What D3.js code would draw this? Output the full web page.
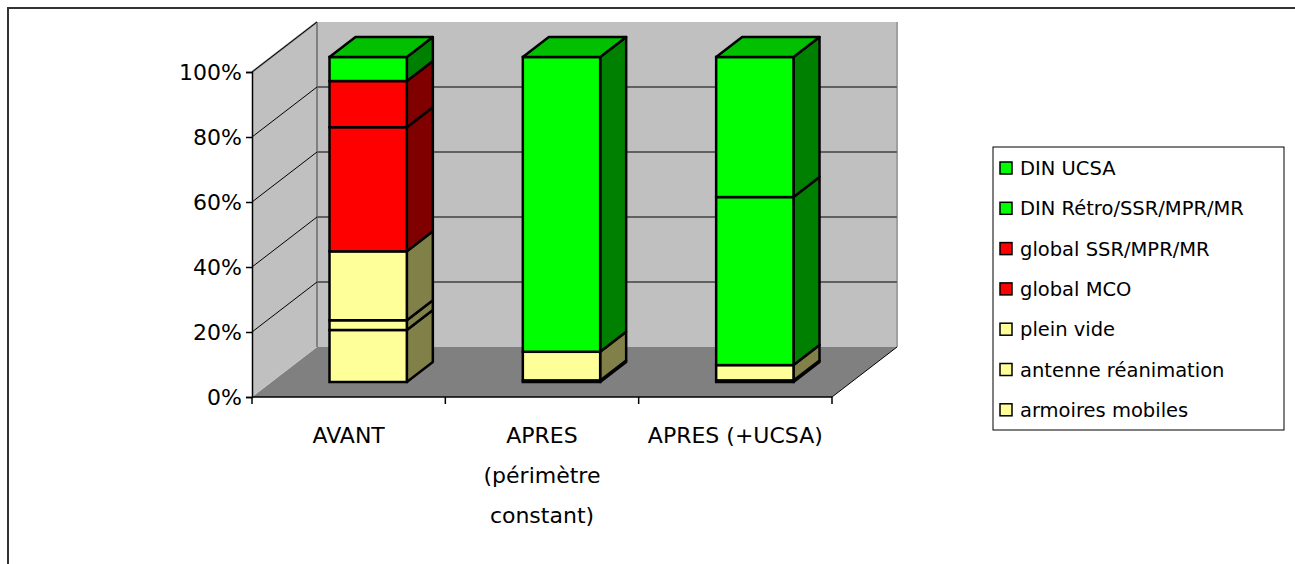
<!DOCTYPE html>
<html>
<head>
<meta charset="utf-8">
<script src="https://cdn.jsdelivr.net/npm/d3@7"></script>
<style>
  body { margin: 0; background: #fff; }
  svg text { font-family: "Comic Sans MS", "DejaVu Sans", sans-serif; fill: #000; }
</style>
</head>
<body>
<div id="chart"></div>
<script>
// categories and stacked series (share of total, %)
var categories = ["AVANT", "APRES (périmètre constant)", "APRES (+UCSA)"];
var categoryLines = [["AVANT"], ["APRES", "(périmètre", "constant)"], ["APRES (+UCSA)"]];

var armoiresMobiles = [16.0, 0.5, 0.5];
var antenneReanimation = [3.0, 0, 0];
var pleinVide = [21.2, 8.8, 4.7];
var globalMCO = [38.2, 0, 0];
var globalSSR = [14.2, 0, 0];
var dinRetro = [7.4, 90.7, 51.7];
var dinUCSA = [0, 0, 43.1];

// bottom to top
var seriesNames = ["armoires mobiles", "antenne réanimation", "plein vide", "global MCO",
                   "global SSR/MPR/MR", "DIN Rétro/SSR/MPR/MR", "DIN UCSA"];
var seriesValues = [armoiresMobiles, antenneReanimation, pleinVide, globalMCO,
                    globalSSR, dinRetro, dinUCSA];
var seriesGroup = ["yellow", "yellow", "yellow", "red", "red", "green", "green"];

var yTicks = [0, 20, 40, 60, 80, 100];

var palette = {
  yellow: {front: "#FFFF99", side: "#808048", top: "#CCCC7A"},
  red:    {front: "#FF0000", side: "#800000", top: "#C00000"},
  green:  {front: "#00FF00", side: "#008000", top: "#00C000"}
};

var W = 1295, H = 564;
var svg = d3.select("#chart").append("svg")
  .attr("width", W).attr("height", H);

// outer frame (runs off right/bottom edges)
svg.append("rect")
  .attr("x", 8).attr("y", 8).attr("width", 1400).attr("height", 700)
  .attr("fill", "#fff").attr("stroke", "#333").attr("stroke-width", 2);

// 3D plot geometry
var x0 = 252, x1 = 832;
var depthX = 65, depthY = -50;

var x = d3.scaleBand().domain(categories).range([x0, x1])
  .paddingInner(0.6).paddingOuter(0.3);
var y = d3.scaleLinear().domain([0, 100]).range([397, 72]);

function pt(px, py, d) { return [px + d * depthX, py + d * depthY]; }
function poly(points) { return points.map(function(p) { return p.join(","); }).join(" "); }

var g = svg.append("g");

// floor
g.append("polygon")
  .attr("points", poly([pt(x0, y(0), 0), pt(x1, y(0), 0), pt(x1, y(0), 1), pt(x0, y(0), 1)]))
  .attr("fill", "#808080");

// left wall
g.append("polygon")
  .attr("points", poly([pt(x0, y(0), 0), pt(x0, y(100), 0), pt(x0, y(100), 1), pt(x0, y(0), 1)]))
  .attr("fill", "#C0C0C0");

// back wall
g.append("polygon")
  .attr("points", poly([pt(x0, y(100), 1), pt(x1, y(100), 1), pt(x1, y(0), 1), pt(x0, y(0), 1)]))
  .attr("fill", "#C0C0C0");

// wall edges
g.append("line")
  .attr("x1", pt(x0, y(100), 0)[0]).attr("y1", pt(x0, y(100), 0)[1])
  .attr("x2", pt(x0, y(100), 1)[0]).attr("y2", pt(x0, y(100), 1)[1])
  .attr("stroke", "#808080").attr("stroke-width", 2);
g.append("line")
  .attr("x1", pt(x0, y(0), 1)[0]).attr("y1", pt(x0, y(0), 1)[1])
  .attr("x2", pt(x0, y(100), 1)[0]).attr("y2", pt(x0, y(100), 1)[1])
  .attr("stroke", "#808080").attr("stroke-width", 2);
g.append("line")
  .attr("x1", pt(x1, y(0), 1)[0]).attr("y1", pt(x1, y(0), 1)[1])
  .attr("x2", pt(x1, y(100), 1)[0]).attr("y2", pt(x1, y(100), 1)[1])
  .attr("stroke", "#A0A0A0").attr("stroke-width", 2);

// gridlines
yTicks.filter(function(t) { return t > 0; }).forEach(function(t) {
  g.append("line")
    .attr("x1", pt(x0, y(t), 0)[0]).attr("y1", pt(x0, y(t), 0)[1])
    .attr("x2", pt(x0, y(t), 1)[0]).attr("y2", pt(x0, y(t), 1)[1])
    .attr("stroke", "#000").attr("stroke-width", 1);
  g.append("line")
    .attr("x1", pt(x0, y(t), 1)[0]).attr("y1", pt(x0, y(t), 1)[1])
    .attr("x2", pt(x1, y(t), 1)[0]).attr("y2", pt(x1, y(t), 1)[1])
    .attr("stroke", "#606060").attr("stroke-width", t === 100 ? 0 : 2);
});

// floor right edge
g.append("line")
  .attr("x1", pt(x1, y(0), 0)[0]).attr("y1", pt(x1, y(0), 0)[1])
  .attr("x2", pt(x1, y(0), 1)[0]).attr("y2", pt(x1, y(0), 1)[1])
  .attr("stroke", "#000").attr("stroke-width", 1);

// axes
var yAxis = d3.axisLeft(y).tickValues(yTicks).tickSize(6).tickFormat(function(d) { return d + "%"; });
var ya = svg.append("g").attr("transform", "translate(" + x0 + ",0)").call(yAxis);
ya.attr("font-family", null);
ya.select(".domain").attr("stroke", "#000").attr("stroke-width", 1.5);
ya.selectAll(".tick line").attr("stroke", "#000").attr("stroke-width", 1.5);
ya.selectAll(".tick text").attr("x", -10).attr("font-size", 22).attr("dy", "0.36em");

var xEdges = d3.scaleLinear().domain([0, categories.length]).range([x0, x1]);
var xa = svg.append("g").attr("transform", "translate(0," + y(0) + ")");
xa.append("line").attr("x1", x0).attr("x2", x1).attr("stroke", "#000").attr("stroke-width", 1.5);
d3.range(categories.length + 1).forEach(function(i) {
  xa.append("line").attr("x1", xEdges(i)).attr("x2", xEdges(i)).attr("y1", 0).attr("y2", 7)
    .attr("stroke", "#000").attr("stroke-width", 1.5);
});
categories.forEach(function(c, i) {
  var t = xa.append("text").attr("text-anchor", "middle").attr("font-size", 22)
    .attr("x", xEdges(i + 0.5)).attr("y", 46);
  categoryLines[i].forEach(function(line, j) {
    t.append("tspan").attr("x", xEdges(i + 0.5)).attr("dy", j === 0 ? 0 : 40).text(line);
  });
});

// bars
var d0 = 0.3, d1 = 0.7;
categories.forEach(function(c, ci) {
  var bx0 = x(c) + d0 * depthX, bx1 = bx0 + x.bandwidth();
  var cum = 0;
  var segs = [];
  seriesValues.forEach(function(vals, si) {
    var v = vals[ci];
    if (v > 0) { segs.push({lo: cum, hi: cum + v, color: palette[seriesGroup[si]]}); cum += v; }
  });
  var bar = g.append("g");
  segs.forEach(function(s, k) {
    var yl = y(s.lo) + d0 * depthY, yh = y(s.hi) + d0 * depthY;
    var dxs = (d1 - d0) * depthX, dys = (d1 - d0) * depthY;
    bar.append("polygon")
      .attr("points", poly([[bx1, yl], [bx1 + dxs, yl + dys], [bx1 + dxs, yh + dys], [bx1, yh]]))
      .attr("fill", s.color.side).attr("stroke", "#000").attr("stroke-width", 2.5)
      .attr("stroke-linejoin", "round");
    bar.append("rect")
      .attr("x", bx0).attr("y", yh).attr("width", bx1 - bx0).attr("height", yl - yh)
      .attr("fill", s.color.front).attr("stroke", "#000").attr("stroke-width", 2.5);
    if (k === segs.length - 1) {
      bar.append("polygon")
        .attr("points", poly([[bx0, yh], [bx1, yh], [bx1 + dxs, yh + dys], [bx0 + dxs, yh + dys]]))
        .attr("fill", s.color.top).attr("stroke", "#000").attr("stroke-width", 2.5)
        .attr("stroke-linejoin", "round");
    }
  });
});

// legend (top to bottom = reverse stack order)
var legend = svg.append("g").attr("transform", "translate(993,147)");
legend.append("rect").attr("width", 291).attr("height", 283)
  .attr("fill", "#fff").attr("stroke", "#000").attr("stroke-width", 1);
var legendItems = d3.range(seriesNames.length).reverse();
legendItems.forEach(function(si, i) {
  var row = legend.append("g").attr("transform", "translate(0," + (21 + i * 40.3) + ")");
  row.append("rect").attr("x", 7).attr("y", -6).attr("width", 12).attr("height", 12)
    .attr("fill", palette[seriesGroup[si]].front).attr("stroke", "#000").attr("stroke-width", 1.5);
  row.append("text").attr("x", 27).attr("dy", "0.36em").attr("font-size", 19.5)
    .text(seriesNames[si]);
});
</script>
</body>
</html>
